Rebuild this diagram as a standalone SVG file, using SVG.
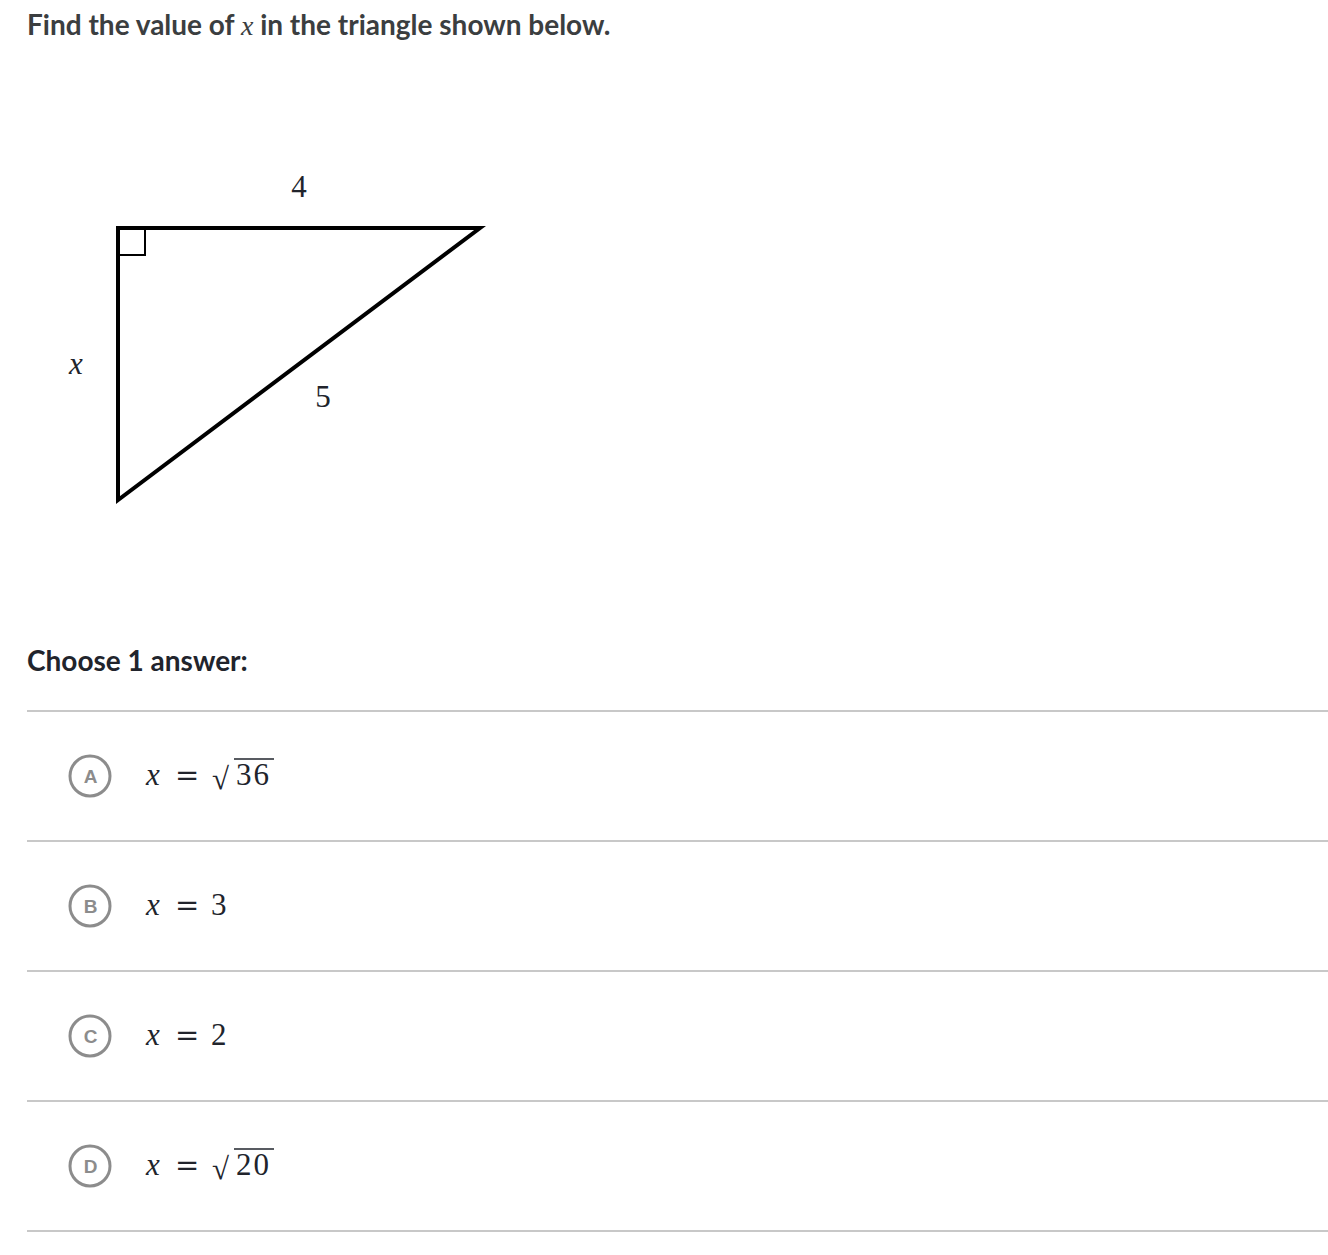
<svg xmlns="http://www.w3.org/2000/svg" width="1328" height="1255" viewBox="0 0 1328 1255">
<style>
.h{font-family:Lato,"Liberation Sans",sans-serif;font-weight:700;font-size:28px;fill:#3b3e40}
.m{font-family:"Liberation Serif","DejaVu Serif",serif;font-size:31px;fill:#21242c}
.mi{font-style:italic}
.eq{font-family:"DejaVu Serif",serif;font-size:29px}
.sep{stroke:#c8c8c8;stroke-width:2}
.bub{fill:#fff;stroke:#8c8c8c;stroke-width:3}
.bl{font-family:"Liberation Sans",Arial,sans-serif;font-weight:700;font-size:19px;fill:#8c8c8c;text-anchor:middle}
</style>
<rect width="1328" height="1255" fill="#fff"/>
<text class="h" x="27" y="35">Find the value of <tspan font-family="Liberation Serif" font-style="italic" font-size="28px" font-weight="400">x</tspan> in the triangle shown below.</text>
<g id="triangle">
<polygon points="118,228 480,228 118,500" fill="none" stroke="#000" stroke-width="4" stroke-linejoin="miter"/>
<polyline points="118,255 145,255 145,228" fill="none" stroke="#000" stroke-width="2"/>
<text class="m" x="299" y="197" text-anchor="middle">4</text>
<text class="m mi" x="76" y="374" text-anchor="middle">x</text>
<text class="m" x="323" y="407" text-anchor="middle">5</text>
</g>
<text class="h" x="27" y="671" style="fill:#21242c">Choose 1 answer:</text>
<g id="separators">
<line class="sep" x1="27" y1="711" x2="1328" y2="711"/>
<line class="sep" x1="27" y1="841" x2="1328" y2="841"/>
<line class="sep" x1="27" y1="971" x2="1328" y2="971"/>
<line class="sep" x1="27" y1="1101" x2="1328" y2="1101"/>
<line class="sep" x1="27" y1="1231" x2="1328" y2="1231"/>
</g>
<g id="choiceA">
<circle class="bub" cx="90" cy="776" r="20"/>
<text class="bl" x="90.5" y="783">A</text>
<text class="m mi" x="146" y="785">x</text>
<text class="m eq" x="175" y="785">=</text>
<text class="m" x="212" y="789" font-size="36px">√</text>
<line x1="234" y1="759" x2="274" y2="759" stroke="#21242c" stroke-width="1.5"/>
<text class="m" x="236" y="785" letter-spacing="2">36</text>
</g>
<g id="choiceB">
<circle class="bub" cx="90" cy="906" r="20"/>
<text class="bl" x="90.5" y="913">B</text>
<text class="m mi" x="146" y="915">x</text>
<text class="m eq" x="175" y="915">=</text>
<text class="m" x="211" y="915">3</text>
</g>
<g id="choiceC">
<circle class="bub" cx="90" cy="1036" r="20"/>
<text class="bl" x="90.5" y="1043">C</text>
<text class="m mi" x="146" y="1045">x</text>
<text class="m eq" x="175" y="1045">=</text>
<text class="m" x="211" y="1045">2</text>
</g>
<g id="choiceD">
<circle class="bub" cx="90" cy="1166" r="20"/>
<text class="bl" x="90.5" y="1173">D</text>
<text class="m mi" x="146" y="1175">x</text>
<text class="m eq" x="175" y="1175">=</text>
<text class="m" x="212" y="1179" font-size="36px">√</text>
<line x1="234" y1="1149" x2="274" y2="1149" stroke="#21242c" stroke-width="1.5"/>
<text class="m" x="236" y="1175" letter-spacing="2">20</text>
</g>
</svg>
